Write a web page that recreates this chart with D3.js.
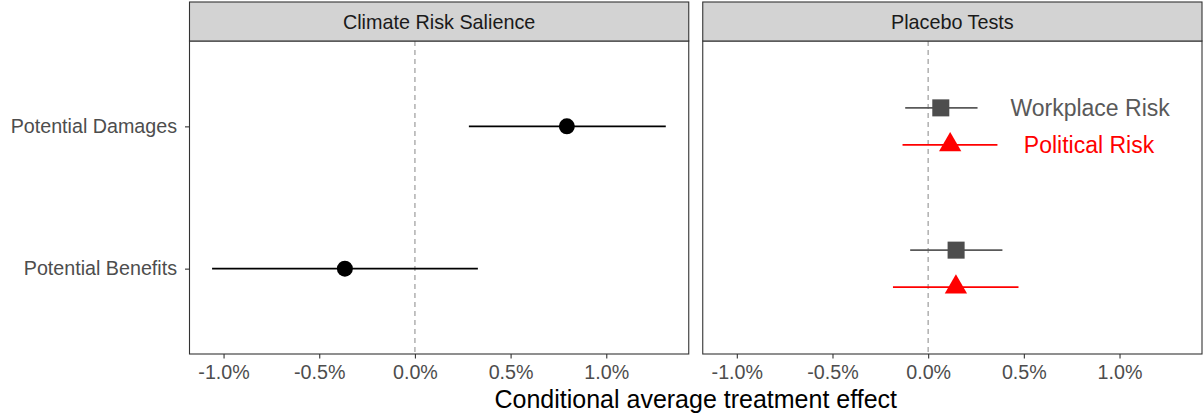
<!DOCTYPE html>
<html>
<head>
<meta charset="utf-8">
<script src="https://cdn.jsdelivr.net/npm/d3@7"></script>
<style>
  body { margin: 0; background: #fff; }
  svg { display: block; font-family: "Liberation Sans", Arial, sans-serif; }
</style>
</head>
<body>
<div id="chart"></div>
<script>
// categories and facets
var outcomes = ["Potential Damages", "Potential Benefits"];
var panels = ["Climate Risk Salience", "Placebo Tests"];
var xTicks = [-0.01, -0.005, 0, 0.005, 0.01];

// Climate Risk Salience estimates (share, not percent)
var salienceEst = [0.00794, -0.00366];
var salienceLo = [0.00282, -0.0106];
var salienceHi = [0.01311, 0.00329];

// Placebo tests: workplace risk
var workEst = [0.00066, 0.00146];
var workLo = [-0.0012, -0.00094];
var workHi = [0.00258, 0.00388];

// Placebo tests: political risk
var polEst = [0.00115, 0.00145];
var polLo = [-0.00134, -0.00184];
var polHi = [0.00362, 0.00472];

var legendLabels = ["Workplace Risk", "Political Risk"];

var W = 1204, H = 417;
var margin = { top: 2, right: 2, bottom: 63, left: 189.5 };
var gap = 14;
var stripH = 39;
var panelW = (W - margin.left - margin.right - gap) / 2;
var panelH = H - margin.top - margin.bottom - stripH;
var FONT = "Liberation Sans, Arial, sans-serif";

var svg = d3.select("#chart").append("svg")
    .attr("width", W)
    .attr("height", H);

var x = d3.scaleLinear().domain([-0.01178, 0.01431]).range([0, panelW]);
var y = d3.scalePoint().domain(outcomes).range([0, panelH]).padding(0.6);
var dodge = 0.13 * y.step();

var f1 = d3.format(".1%");
var pct = function(v) { return f1(v).replace("\u2212", "-"); };

panels.forEach(function(name, pi) {
    var ox = margin.left + pi * (panelW + gap);
    var g = svg.append("g").attr("transform", "translate(" + ox + "," + (margin.top + stripH) + ")");

    // strip
    svg.append("rect")
        .attr("x", ox).attr("y", margin.top)
        .attr("width", panelW).attr("height", stripH)
        .attr("fill", "#d3d3d3").attr("stroke", "#333").attr("stroke-width", 1.1);
    svg.append("text")
        .attr("x", ox + panelW / 2).attr("y", 28.5)
        .attr("text-anchor", "middle")
        .attr("font-size", 19.8).attr("fill", "#1a1a1a")
        .text(name);

    // zero line
    g.append("line")
        .attr("x1", x(0)).attr("x2", x(0))
        .attr("y1", 0).attr("y2", panelH)
        .attr("stroke", "#aaa").attr("stroke-width", 1.4)
        .attr("stroke-dasharray", "5,4");

    // x axis
    var xa = g.append("g").attr("transform", "translate(0," + panelH + ")")
        .call(d3.axisBottom(x).tickValues(xTicks).tickFormat(pct).tickSize(4.5).tickSizeOuter(0));
    xa.select(".domain").remove();
    xa.selectAll(".tick line").attr("stroke", "#333").attr("stroke-width", 1.1);
    xa.selectAll(".tick text").attr("font-size", 19.7).attr("fill", "#4d4d4d")
        .attr("dy", "0.71em").attr("y", 11.5)
        .attr("font-family", FONT);

    if (pi === 0) {
        var ya = g.append("g").call(d3.axisLeft(y).tickSize(4.5).tickSizeOuter(0));
        ya.select(".domain").remove();
        ya.selectAll(".tick line").attr("stroke", "#333").attr("stroke-width", 1.1);
        ya.selectAll(".tick text").attr("font-size", 19.7).attr("fill", "#4d4d4d")
            .attr("x", -12.5)
            .attr("font-family", FONT);

        var rows = outcomes.map(function(o, i) {
            return { cat: o, est: salienceEst[i], lo: salienceLo[i], hi: salienceHi[i] };
        });
        g.selectAll(".ci").data(rows).enter().append("line")
            .attr("x1", function(d) { return x(d.lo); })
            .attr("x2", function(d) { return x(d.hi); })
            .attr("y1", function(d) { return y(d.cat); })
            .attr("y2", function(d) { return y(d.cat); })
            .attr("stroke", "#000").attr("stroke-width", 1.9);
        g.selectAll(".pt").data(rows).enter().append("circle")
            .attr("cx", function(d) { return x(d.est); })
            .attr("cy", function(d) { return y(d.cat); })
            .attr("r", 8).attr("fill", "#000");
    } else {
        var series = [
            { name: legendLabels[0], color: "#4d4d4d", lcolor: "#595959", shape: d3.symbolSquare, size: 290, off: -dodge, est: workEst, lo: workLo, hi: workHi },
            { name: legendLabels[1], color: "#ff0000", lcolor: "#ff0000", shape: d3.symbolTriangle, size: 215, off: dodge, est: polEst, lo: polLo, hi: polHi }
        ];
        series.forEach(function(s) {
            var rows = outcomes.map(function(o, i) {
                return { cat: o, est: s.est[i], lo: s.lo[i], hi: s.hi[i] };
            });
            g.selectAll(null).data(rows).enter().append("line")
                .attr("x1", function(d) { return x(d.lo); })
                .attr("x2", function(d) { return x(d.hi); })
                .attr("y1", function(d) { return y(d.cat) + s.off; })
                .attr("y2", function(d) { return y(d.cat) + s.off; })
                .attr("stroke", s.lcolor).attr("stroke-width", 1.9);
            g.selectAll(null).data(rows).enter().append("path")
                .attr("d", d3.symbol().type(s.shape).size(s.size))
                .attr("transform", function(d) {
                    return "translate(" + x(d.est) + "," + (y(d.cat) + s.off) + ")";
                })
                .attr("fill", s.color);
        });

        // in-panel labels
        g.append("text")
            .attr("x", x(0.0043)).attr("y", y(outcomes[0]) - dodge + 8.3)
            .attr("font-size", 23).attr("fill", "#595959")
            .text(legendLabels[0]);
        g.append("text")
            .attr("x", x(0.0050)).attr("y", y(outcomes[0]) + dodge + 8.3)
            .attr("font-size", 23).attr("fill", "#ff0000")
            .text(legendLabels[1]);
    }

    // panel border
    g.append("rect")
        .attr("width", panelW).attr("height", panelH)
        .attr("fill", "none").attr("stroke", "#333").attr("stroke-width", 1.1);
});

svg.append("text")
    .attr("x", margin.left + panelW + gap / 2)
    .attr("y", H - 9)
    .attr("text-anchor", "middle")
    .attr("font-size", 25).attr("fill", "#000")
    .text("Conditional average treatment effect");
</script>
</body>
</html>
